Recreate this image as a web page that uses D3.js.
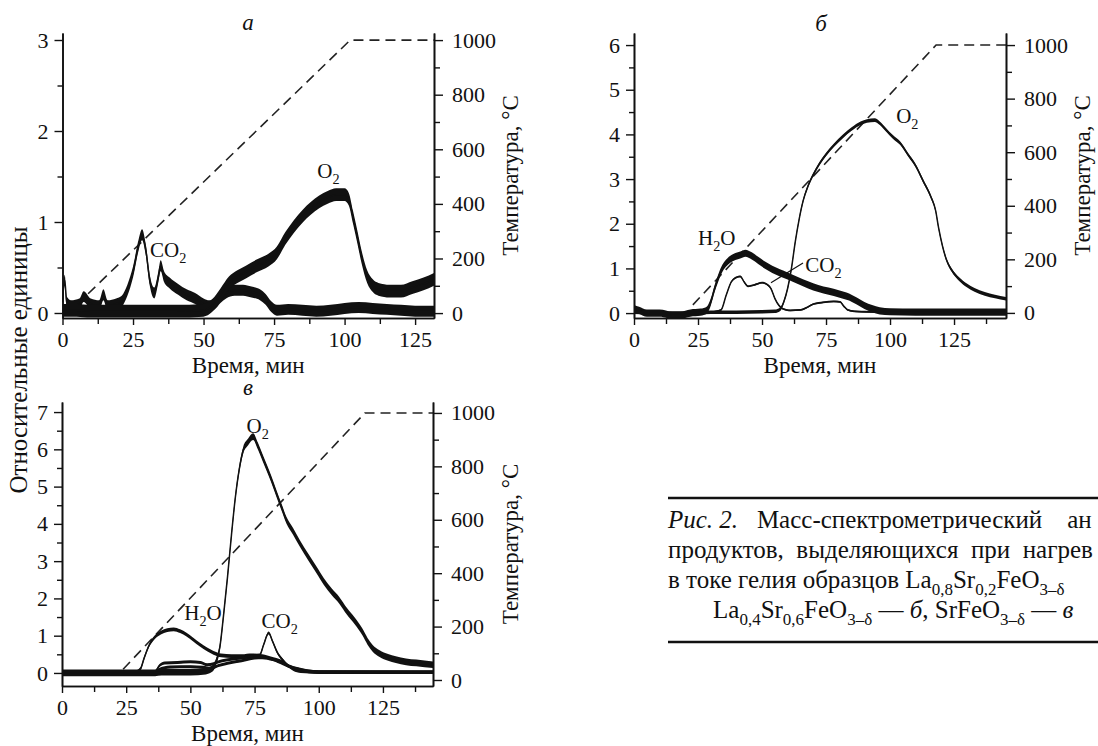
<!DOCTYPE html>
<html>
<head>
<meta charset="utf-8">
<script src="https://cdn.jsdelivr.net/npm/d3@7"></script>
<style>
  body { margin: 0; background: #fff; }
  svg text { font-family: "Liberation Serif", "Times New Roman", serif; fill: #111; }
</style>
</head>
<body>
<div id="chart"></div>
<script>
// ---- data: [time, value] pairs ----
// panel а
const aCO2 = [[0,0.12],[0.8,0.36],[1.5,0.12],[3,0.08],[6,0.1],[7.5,0.18],[10,0.1],[13,0.08],[14.5,0.2],[16,0.08],[19,0.1],[21,0.13],[23,0.25],[25,0.45],[27,0.75],[28.2,0.86],[29.5,0.7],[31,0.35],[32.5,0.22],[34,0.4],[34.8,0.52],[36,0.4],[38,0.33],[41,0.26],[44,0.2],[47,0.16],[50,0.1],[52,0.08],[54,0.1],[56,0.17],[58,0.22],[61,0.25],[64,0.25],[67,0.23],[70,0.2],[72,0.15],[74,0.07],[76,0.03],[80,0.04],[85,0.03],[90,0.02],[95,0.03],[100,0.05],[105,0.06],[110,0.05],[115,0.04],[120,0.03],[125,0.02],[131.7,0.02]];
const aO2 = [[0,0.03],[5,0.03],[10,0.02],[20,0.02],[30,0.02],[40,0.02],[50,0.03],[53,0.08],[56,0.2],[59,0.33],[62,0.4],[65,0.45],[69,0.52],[73,0.58],[76,0.66],[79,0.82],[82,0.95],[85,1.06],[88,1.15],[91,1.22],[94,1.27],[97,1.3],[100,1.3],[101.5,1.25],[103,1.05],[104.5,0.84],[106,0.62],[108,0.4],[110,0.3],[112,0.26],[116,0.24],[120,0.24],[124,0.28],[128,0.32],[131.7,0.37]];
const aTemp = [[5,30],[102,1000],[131.7,1000]];
const aSpread = [0.06, 0.07];

// panel б
const bH2O = [[0,0.1],[2,0.06],[5,0],[10,0],[15,-0.05],[18,-0.05],[22,0],[26,0.02],[28.5,0.07],[30,0.25],[31.5,0.55],[33,0.8],[34.5,1.0],[36.5,1.15],[39,1.25],[41.5,1.3],[43.5,1.34],[46,1.28],[48.5,1.18],[51,1.08],[54,0.98],[57,0.9],[60,0.83],[64,0.73],[68,0.63],[72,0.55],[76,0.49],[80,0.43],[84,0.36],[87,0.27],[90,0.17],[93,0.1],[96,0.05],[100,0.03],[110,0.02],[120,0.02],[130,0.02],[145.3,0.02]];
const bCO2 = [[0,0.05],[10,0],[20,0],[30,0.02],[34,0.07],[36,0.4],[38,0.7],[40,0.8],[41.5,0.82],[43,0.7],[44.5,0.6],[47,0.63],[50,0.68],[52,0.64],[53.5,0.55],[55,0.33],[56.5,0.18],[58,0.1],[61,0.06],[65,0.07],[68,0.14],[70,0.2],[74,0.24],[78,0.26],[80.5,0.25],[82,0.15],[83.5,0.07],[86,0.04],[90,0.03],[100,0.02],[120,0.02],[145.3,0.02]];
const bO2 = [[0,0.02],[10,0],[20,0],[30,0.02],[40,0.02],[50,0.03],[55,0.04],[57,0.08],[58.5,0.25],[60,0.55],[61.5,1.0],[63,1.6],[64.5,2.1],[66,2.5],[68,2.85],[70.3,3.13],[72.5,3.35],[75,3.55],[78,3.75],[81.5,3.95],[85,4.12],[88.5,4.25],[91,4.3],[94,4.32],[96,4.25],[98.5,4.1],[101,3.95],[104,3.8],[107,3.55],[110,3.3],[113,2.95],[116,2.6],[117.8,2.3],[119,1.9],[120.5,1.5],[122,1.2],[124,0.97],[127,0.76],[130,0.62],[133,0.52],[137,0.43],[141,0.37],[145.3,0.32]];
const bTemp = [[23,30],[118,1000],[145.3,1000]];
const bSpread = [0.08, 0.02, 0.04];

// panel в
const cH2O = [[0,0],[10,0],[20,0],[28,0],[30.5,0.1],[32,0.4],[34,0.75],[36,0.95],[38.5,1.08],[41,1.15],[43.5,1.17],[46,1.12],[48.5,1.03],[51,0.9],[53.7,0.76],[56.5,0.63],[59,0.54],[62,0.47],[66,0.45],[70,0.45],[74,0.47],[78,0.45],[82,0.38],[85,0.32],[88.5,0.18],[92,0.1],[96,0.04],[100,0.02],[110,0.02],[144.5,0.02]];
const cCO2 = [[0,0],[30,0],[36,0.02],[38,0.2],[40,0.27],[45,0.28],[50,0.3],[54,0.28],[56.5,0.22],[59,0.25],[62,0.32],[66,0.37],[70,0.4],[74,0.45],[77,0.48],[78.5,0.75],[80.5,1.07],[82,0.85],[84,0.53],[86,0.35],[88,0.2],[90,0.1],[93,0.04],[100,0.02],[144.5,0.02]];
const cOther = [[0,0],[35,0],[38,0.1],[42,0.16],[50,0.17],[55,0.15],[58,0.12],[61,0.2],[65,0.27],[70,0.33],[75,0.4],[78,0.41],[82,0.36],[86,0.25],[90,0.14],[95,0.06],[100,0.03],[144.5,0.02]];
const cO2 = [[0,0],[20,0],[35,0],[40,0.02],[50,0.02],[56,0.05],[58.5,0.12],[60,0.3],[61.5,0.7],[63,1.6],[64.5,2.6],[66,3.7],[67.5,4.7],[69,5.45],[70.6,5.98],[72.5,6.2],[74.4,6.34],[76.4,6.07],[78,5.8],[79.6,5.53],[81.5,5.2],[83.5,4.82],[85.5,4.45],[87.4,4.1],[90,3.8],[92.6,3.48],[96,3.1],[99,2.78],[102,2.45],[105,2.18],[108,1.95],[111,1.65],[114,1.4],[117,1.1],[119,0.85],[121,0.66],[123.7,0.52],[127,0.42],[130,0.36],[134,0.3],[138,0.27],[144.5,0.22]];
const cTemp = [[23.8,40],[118,1000],[144.5,1000]];
const cSpread = [0.05, 0.04, 0.04, 0.09];

// ticks
const timeTicks = [0, 25, 50, 75, 100, 125];
const timeMinor = [12.5, 37.5, 62.5, 87.5, 112.5, 137.5];
const tempTicks = [0, 200, 400, 600, 800, 1000];
const tempMinor = [100, 300, 500, 700, 900];

const panels = [
  { title: "а", left: 62.5, right: 434, top: 33, bottom: 318, xMax: 131.7,
    yMin: -0.055, yMax: 3.077, yTicks: [0, 1, 2, 3], tMin: -18, tMax: 1026,
    series: [aCO2, aO2], spread: aSpread, temp: aTemp, titleX: 248, titleY: 30, tempTitleX: 518,
    labels: [{t: 31, v: 0.62, parts: ["CO", "_2"]}, {t: 90.3, v: 1.48, parts: ["O", "_2"]}] },
  { title: "б", left: 634, right: 1006, top: 33, bottom: 318, xMax: 145.3,
    yMin: -0.11, yMax: 6.27, yTicks: [0, 1, 2, 3, 4, 5, 6], tMin: -19, tMax: 1045,
    series: [bH2O, bCO2, bO2], spread: bSpread, temp: bTemp, titleX: 821, titleY: 31, tempTitleX: 1090,
    labels: [{t: 25, v: 1.52, parts: ["H", "_2", "O"]}, {t: 66.9, v: 0.93, parts: ["CO", "_2"]}, {t: 102.4, v: 4.25, parts: ["O", "_2"]}],
    leader: [[66, 1.12], [53.5, 0.68]] },
  { title: "в", left: 62, right: 433, top: 402, bottom: 686, xMax: 144.5,
    yMin: -0.35, yMax: 7.27, yTicks: [0, 1, 2, 3, 4, 5, 6, 7], tMin: -22.5, tMax: 1041,
    series: [cH2O, cCO2, cOther, cO2], spread: cSpread, temp: cTemp, titleX: 248, titleY: 395, tempTitleX: 518,
    labels: [{t: 47.6, v: 1.42, parts: ["H", "_2", "O"]}, {t: 77.7, v: 1.2, parts: ["CO", "_2"]}, {t: 71.9, v: 6.43, parts: ["O", "_2"]}] }
];

const svg = d3.select("#chart").append("svg")
    .attr("width", 1098)
    .attr("height", 746);

// text with subscripts: "_x" = subscript, "*x" = italic
function rich(parent, x, y, parts, size) {
  const t = parent.append("text").attr("x", x).attr("y", y).attr("font-size", size)
      .style("white-space", "pre");
  const drop = Math.round(size * 0.28);
  let low = false;
  parts.forEach(p => {
    const sub = p[0] === "_", it = p[0] === "*";
    const ts = t.append("tspan").text(sub || it ? p.slice(1) : p);
    if (sub && !low) { ts.attr("dy", drop); low = true; }
    else if (!sub && low) { ts.attr("dy", -drop); low = false; }
    if (sub) ts.attr("font-size", size * 0.68);
    if (it) ts.attr("font-style", "italic");
  });
  return t;
}

function styleAxis(g) {
  g.attr("font-size", 22).attr("font-family", "Liberation Serif, serif").attr("color", "#111");
  g.select(".domain").attr("stroke-width", 1.6);
  g.selectAll(".tick line").attr("stroke-width", 1.4);
}

panels.forEach((p, pi) => {
  const g = svg.append("g");
  const x = d3.scaleLinear().domain([0, p.xMax]).range([p.left, p.right]);
  const y = d3.scaleLinear().domain([p.yMin, p.yMax]).range([p.bottom, p.top]);
  const yt = d3.scaleLinear().domain([p.tMin, p.tMax]).range([p.bottom, p.top]);

  g.append("clipPath").attr("id", "clip" + pi)
    .append("rect").attr("x", p.left).attr("y", p.top)
    .attr("width", p.right - p.left).attr("height", p.bottom - p.top);

  const plot = g.append("g").attr("clip-path", `url(#clip${pi})`);

  // temperature program (dashed)
  plot.append("path")
      .datum(p.temp)
      .attr("d", d3.line().x(d => x(d[0])).y(d => yt(d[1])))
      .attr("fill", "none")
      .attr("stroke", "#222")
      .attr("stroke-width", 1.6)
      .attr("stroke-dasharray", "10,6");

  // signals: noise band + centre line
  p.series.forEach((s, i) => {
    const n = p.spread[i];
    plot.append("path")
        .datum(s)
        .attr("d", d3.area().curve(d3.curveMonotoneX)
            .x(d => x(d[0])).y0(d => y(d[1] - n)).y1(d => y(d[1] + n)))
        .attr("fill", "#111");
    plot.append("path")
        .datum(s)
        .attr("d", d3.line().curve(d3.curveMonotoneX).x(d => x(d[0])).y(d => y(d[1])))
        .attr("fill", "none")
        .attr("stroke", "#111")
        .attr("stroke-width", 1.5);
  });

  if (p.leader) {
    g.append("path").datum(p.leader)
        .attr("d", d3.line().x(d => x(d[0])).y(d => y(d[1])))
        .attr("stroke", "#111").attr("stroke-width", 1.2);
  }

  // axes
  const yMinor = d3.range(0.5, p.yTicks[p.yTicks.length - 1], 1);
  g.append("g").attr("transform", `translate(${p.left},0)`)
      .call(d3.axisLeft(y).tickValues(yMinor).tickSize(5).tickSizeOuter(0).tickFormat(""))
      .call(styleAxis);
  g.append("g").attr("transform", `translate(${p.left},0)`)
      .call(d3.axisLeft(y).tickValues(p.yTicks).tickSize(8).tickSizeOuter(0).tickPadding(6).tickFormat(d3.format("d")))
      .call(styleAxis);

  g.append("g").attr("transform", `translate(${p.right},0)`)
      .call(d3.axisRight(yt).tickValues(tempMinor).tickSize(6).tickSizeOuter(0).tickFormat(""))
      .call(styleAxis);
  g.append("g").attr("transform", `translate(${p.right},0)`)
      .call(d3.axisRight(yt).tickValues(tempTicks).tickSize(9).tickSizeOuter(0).tickPadding(9).tickFormat(d3.format("d")))
      .call(styleAxis);

  g.append("g").attr("transform", `translate(0,${p.bottom})`)
      .call(d3.axisBottom(x).tickValues(timeMinor.filter(v => v < p.xMax)).tickSize(6).tickSizeOuter(0).tickFormat(""))
      .call(styleAxis);
  g.append("g").attr("transform", `translate(0,${p.bottom})`)
      .call(d3.axisBottom(x).tickValues(timeTicks).tickSize(7).tickSizeOuter(0).tickPadding(6))
      .call(styleAxis);

  // axis titles
  g.append("text")
      .attr("x", (p.left + p.right) / 2)
      .attr("y", p.bottom + 55)
      .attr("text-anchor", "middle")
      .attr("font-size", 23)
      .text("Время, мин");
  g.append("text")
      .attr("transform", `translate(${p.tempTitleX},${(p.top + p.bottom) / 2})rotate(-90)`)
      .attr("text-anchor", "middle")
      .attr("font-size", 23)
      .text("Температура, °C");
  g.append("text")
      .attr("x", p.titleX)
      .attr("y", p.titleY)
      .attr("text-anchor", "middle")
      .attr("font-size", 23)
      .attr("font-style", "italic")
      .text(p.title);

  // curve labels
  p.labels.forEach(l => rich(g, x(l.t), y(l.v), l.parts, 21));
});

// shared left title
svg.append("text")
    .attr("transform", "translate(27,360)rotate(-90)")
    .attr("text-anchor", "middle")
    .attr("font-size", 25)
    .text("Относительные единицы");

// caption (cut off at the right edge, as in the source figure)
const cap = svg.append("g");
cap.append("line").attr("x1", 668).attr("x2", 1098).attr("y1", 498).attr("y2", 498)
    .attr("stroke", "#111").attr("stroke-width", 2.5);
cap.append("line").attr("x1", 668).attr("x2", 1098).attr("y1", 642).attr("y2", 642)
    .attr("stroke", "#111").attr("stroke-width", 2.5);
rich(cap, 668, 528, ["*Рис. 2.", "   Масс-спектрометрический    ан"], 25);
rich(cap, 668, 558, ["продуктов,  выделяющихся  при  нагрев"], 25);
rich(cap, 668, 588, ["в токе гелия образцов La", "_0,8", "Sr", "_0,2", "FeO", "_3–δ"], 25);
rich(cap, 713, 618, ["La", "_0,4", "Sr", "_0,6", "FeO", "_3–δ", " — ", "*б", ", SrFeO", "_3–δ", " — ", "*в"], 25);
</script>
</body>
</html>
